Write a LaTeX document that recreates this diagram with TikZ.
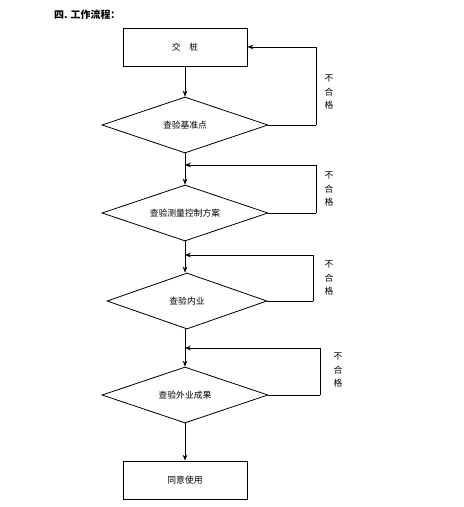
\documentclass[tikz,border=0pt]{standalone}
\usepackage{fontspec}
\setmainfont{Noto Sans CJK SC}
\usepackage{tikz}
\usetikzlibrary{arrows.meta, positioning, shapes.geometric}

\begin{document}
\begin{tikzpicture}[
  x=0.03cm, y=-0.03cm,
  font=\fontsize{7.5}{9}\selectfont,
  stepbox/.style={draw, line width=0.8pt, minimum width=3.72cm,
                  minimum height=1.14cm, inner sep=0pt, align=center},
  check/.style={draw, diamond, line width=0.7pt, minimum width=4.98cm,
                minimum height=1.68cm, inner sep=0pt, aspect=3},
  flow/.style={-{Stealth[length=5pt,width=4pt]}, line width=0.7pt},
  back/.style={line width=0.7pt},
  fail/.style={align=center, font=\fontsize{7.5}{11.5}\selectfont}
]
  \useasboundingbox (0,0) rectangle (463,507);

  \node[anchor=west, font=\bfseries\fontsize{8.5}{10}\selectfont] (title)
    at (50,15) {四. 工作流程：};

  \node[stepbox] (start) at (185,47) {交\quad 桩};
  \node[check] (d1) at (185,125) {查验基准点};
  \node[check] (d2) at (185,213) {查验测量控制方案};
  \node[check, minimum width=4.8cm] (d3) at (187,301) {查验内业};
  \node[check] (d4) at (185,395) {查验外业成果};
  \node[stepbox] (finish) at (185,480) {同意使用};

  % main line
  \draw[flow] (start) -- (d1);
  \draw[flow] (d1) -- (d2);
  \draw[flow] (d2.south) -- (d2.south |- d3.north);
  \draw[flow] (d4.north |- d3.south) -- (d4.north);
  \draw[flow] (d4.south) -- (d4.south |- finish.north);

  % failed checks go back
  \coordinate (r1) at (316,125);
  \coordinate (r2) at (316,213);
  \coordinate (r3) at (313,301);
  \coordinate (r4) at (320,395);
  \coordinate (j2) at (185,165);
  \coordinate (j3) at (185,255);
  \coordinate (j4) at (185,348);

  \draw[back] (d1.east) -- (r1);
  \draw[flow] (r1) |- (start.east);
  \draw[back] (d2.east) -- (r2);
  \draw[flow] (r2) |- (j2);
  \draw[back] (d3.east) -- (r3);
  \draw[flow] (r3) |- (j3);
  \draw[back] (d4.east) -- (r4);
  \draw[flow] (r4) |- (j4);

  \node[fail] (f1) at (329,92) {不\\合\\格};
  \node[fail] (f2) at (329,189) {不\\合\\格};
  \node[fail] (f3) at (329,278) {不\\合\\格};
  \node[fail] (f4) at (338,370) {不\\合\\格};
\end{tikzpicture}
\end{document}
